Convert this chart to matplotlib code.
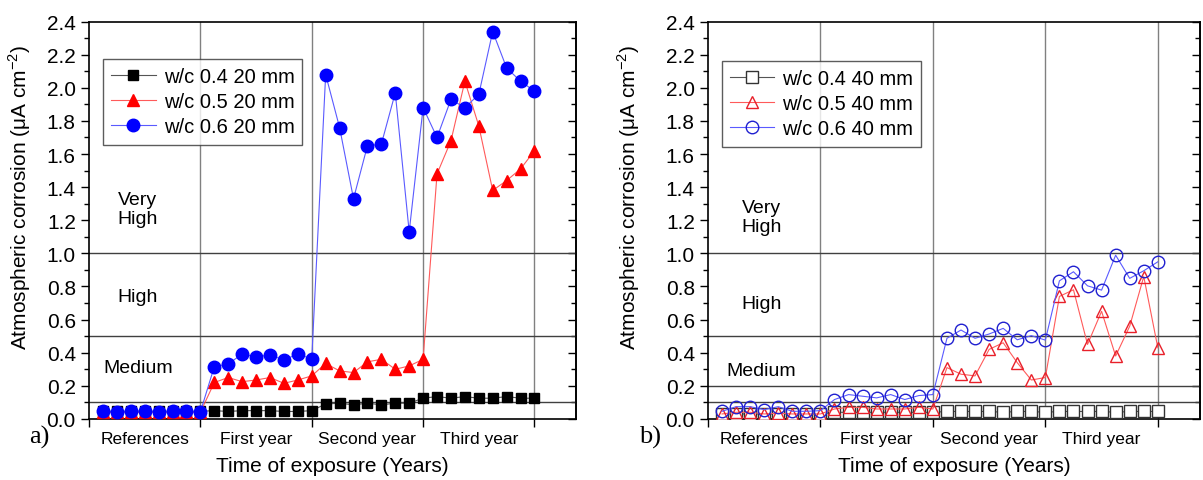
import matplotlib
matplotlib.use("Agg")
import matplotlib.pyplot as plt
import numpy as np

plt.rcParams['font.family'] = ['Liberation Sans', 'DejaVu Sans']

# measurement index 1..32 (8 per period)
idx = np.arange(1, 33)
periods = ["References", "First year", "Second year", "Third year"]
period_pos = [4, 12, 20, 28]
period_bounds = [8, 16, 24, 32]

# panel a) 20 mm cover
a_w04 = [0.046, 0.046, 0.046, 0.046, 0.046, 0.046, 0.046, 0.046,
         0.05, 0.045, 0.05, 0.05, 0.05, 0.045, 0.045, 0.05,
         0.09, 0.095, 0.085, 0.095, 0.085, 0.095, 0.095,
         0.125, 0.135, 0.125, 0.135, 0.125, 0.125, 0.135, 0.125, 0.125]
a_w05 = [0.04, 0.04, 0.04, 0.04, 0.04, 0.04, 0.04, 0.04,
         0.22, 0.25, 0.225, 0.235, 0.25, 0.215, 0.235, 0.26,
         0.335, 0.29, 0.28, 0.345, 0.36, 0.30, 0.32, 0.36,
         1.48, 1.68, 2.04, 1.77, 1.38, 1.44, 1.51, 1.62]
a_w06 = [0.046, 0.042, 0.046, 0.046, 0.042, 0.046, 0.046, 0.042,
         0.316, 0.332, 0.392, 0.376, 0.386, 0.356, 0.392, 0.362,
         2.08, 1.76, 1.33, 1.65, 1.66, 1.97, 1.13, 1.88,
         1.70, 1.93, 1.88, 1.96, 2.34, 2.12, 2.04, 1.98]

# panel b) 40 mm cover
b_w04 = [0.03, 0.03, 0.03, 0.03, 0.03, 0.03, 0.03, 0.03,
         0.04, 0.04, 0.04, 0.04, 0.04, 0.04, 0.04, 0.04,
         0.045, 0.045, 0.045, 0.045, 0.04, 0.045, 0.045, 0.04,
         0.045, 0.045, 0.045, 0.045, 0.04, 0.045, 0.045, 0.045]
b_w05 = [0.03, 0.04, 0.04, 0.03, 0.035, 0.03, 0.03, 0.03,
         0.06, 0.07, 0.07, 0.06, 0.06, 0.06, 0.07, 0.06,
         0.31, 0.27, 0.26, 0.42, 0.46, 0.34, 0.235, 0.25,
         0.74, 0.78, 0.45, 0.65, 0.38, 0.56, 0.86, 0.43]
b_w06 = [0.046, 0.074, 0.074, 0.056, 0.074, 0.046, 0.046, 0.05,
         0.117, 0.147, 0.137, 0.127, 0.147, 0.117, 0.141, 0.147,
         0.487, 0.537, 0.487, 0.513, 0.547, 0.478, 0.503, 0.476,
         0.834, 0.889, 0.804, 0.778, 0.989, 0.849, 0.895, 0.949]

a_labels = ["w/c 0.4 20 mm", "w/c 0.5 20 mm", "w/c 0.6 20 mm"]
b_labels = ["w/c 0.4 40 mm", "w/c 0.5 40 mm", "w/c 0.6 40 mm"]
a_limits = [0.1, 0.5, 1.0]
b_limits = [0.1, 0.2, 0.5, 1.0]

major_y = np.arange(0, 2.41, 0.2)
minor_y = np.arange(0, 2.41, 0.1)


def setup_axes(ax, limits, text_x, text_y, ylab_x):
    ax.set_xlim(0, 35)
    ax.set_ylim(0, 2.4)
    for b in period_bounds:
        ax.axvline(b, color='#808080', lw=1.0, zorder=1)
    for h in limits:
        ax.axhline(h, color='#404040', lw=1.0, zorder=1)
    ax.set_xticks([0] + period_bounds)
    ax.set_xticklabels([])
    ax.set_xticks(period_pos, minor=True)
    ax.set_xticklabels(periods, minor=True)
    ax.tick_params(axis='x', which='major', direction='out', length=6, width=1, top=False)
    ax.tick_params(axis='x', which='minor', length=0, pad=9, labelsize=12.5)
    ax.set_yticks(major_y)
    ax.set_yticks(minor_y, minor=True)
    ax.set_yticklabels([f"{v:.1f}" for v in major_y])
    ax.tick_params(axis='y', which='major', direction='out', length=6, width=1, labelsize=15)
    ax.tick_params(axis='y', which='minor', direction='out', length=3.5, width=1)
    # inward ticks on the right spine
    sec = ax.secondary_yaxis('right')
    sec.set_yticks(major_y)
    sec.set_yticks(minor_y, minor=True)
    sec.tick_params(which='major', direction='in', length=6, width=1, labelright=False)
    sec.tick_params(which='minor', direction='in', length=3.5, width=1, labelright=False)
    sec.spines['right'].set_linewidth(1.2)
    for side in ['left', 'right', 'top', 'bottom']:
        ax.spines[side].set_linewidth(1.2)
    ax.set_xlabel("Time of exposure (Years)", fontsize=15, labelpad=7)
    ax.set_ylabel(r"Atmospheric corrosion ($\mathregular{\mu}$A cm$^{\mathregular{-2}}$)",
                  fontsize=15)
    ax.yaxis.set_label_coords(ylab_x, 0.56)
    ax.text(text_x, text_y[0], "Very\nHigh", ha='center', va='center', fontsize=14,
            linespacing=1.15)
    ax.text(text_x, text_y[1], "High", ha='center', va='center', fontsize=14)
    ax.text(text_x, text_y[2], "Medium", ha='center', va='center', fontsize=14)


fig = plt.figure(figsize=(12.03, 4.81), dpi=100)
ax1 = fig.add_axes([0.074, 0.127, 0.405, 0.826])
ax2 = fig.add_axes([0.5885, 0.127, 0.409, 0.826])

# panel a
setup_axes(ax1, a_limits, 3.5, [1.27, 0.74, 0.31], -0.115)
ax1.plot(idx, a_w04, color='#555555', lw=0.8, marker='s', ms=7.5, mfc='black',
         mec='black', label=a_labels[0], zorder=3)
ax1.plot(idx, a_w05, color='#ff5a5a', lw=0.8, marker='^', ms=9, mfc='red',
         mec='red', label=a_labels[1], zorder=4)
ax1.plot(idx, a_w06, color='#5a5aff', lw=0.8, marker='o', ms=9, mfc='blue',
         mec='blue', label=a_labels[2], zorder=5)
leg = ax1.legend(loc='upper left', bbox_to_anchor=(0.029, 0.905), borderaxespad=0,
                 fontsize=14.5, frameon=True, fancybox=False, edgecolor='#333333',
                 handlelength=2.2, handletextpad=0.4, labelspacing=0.3, borderpad=0.4)
leg.get_frame().set_linewidth(1.0)
fig.text(0.033, 0.09, "a)", fontsize=19, family='Liberation Serif', ha='center', va='center')

# panel b
setup_axes(ax2, b_limits, 3.8, [1.22, 0.70, 0.29], -0.135)
ax2.plot(idx, b_w04, color='#555555', lw=0.8, marker='s', ms=8, mfc='white',
         mec='#333333', mew=1.0, label=b_labels[0], zorder=3)
ax2.plot(idx, b_w05, color='#ff5a5a', lw=0.8, marker='^', ms=9, mfc='none',
         mec='#e8202a', mew=1.0, label=b_labels[1], zorder=4)
ax2.plot(idx, b_w06, color='#5a5aff', lw=0.8, marker='o', ms=9, mfc='none',
         mec='#2020d0', mew=1.0, label=b_labels[2], zorder=5)
leg = ax2.legend(loc='upper left', bbox_to_anchor=(0.028, 0.90), borderaxespad=0,
                 fontsize=14.5, frameon=True, fancybox=False, edgecolor='#333333',
                 handlelength=2.2, handletextpad=0.4, labelspacing=0.3, borderpad=0.4)
leg.get_frame().set_linewidth(1.0)
fig.text(0.54, 0.09, "b)", fontsize=19, family='Liberation Serif', ha='center', va='center')

fig.savefig("out.png", dpi=100)
